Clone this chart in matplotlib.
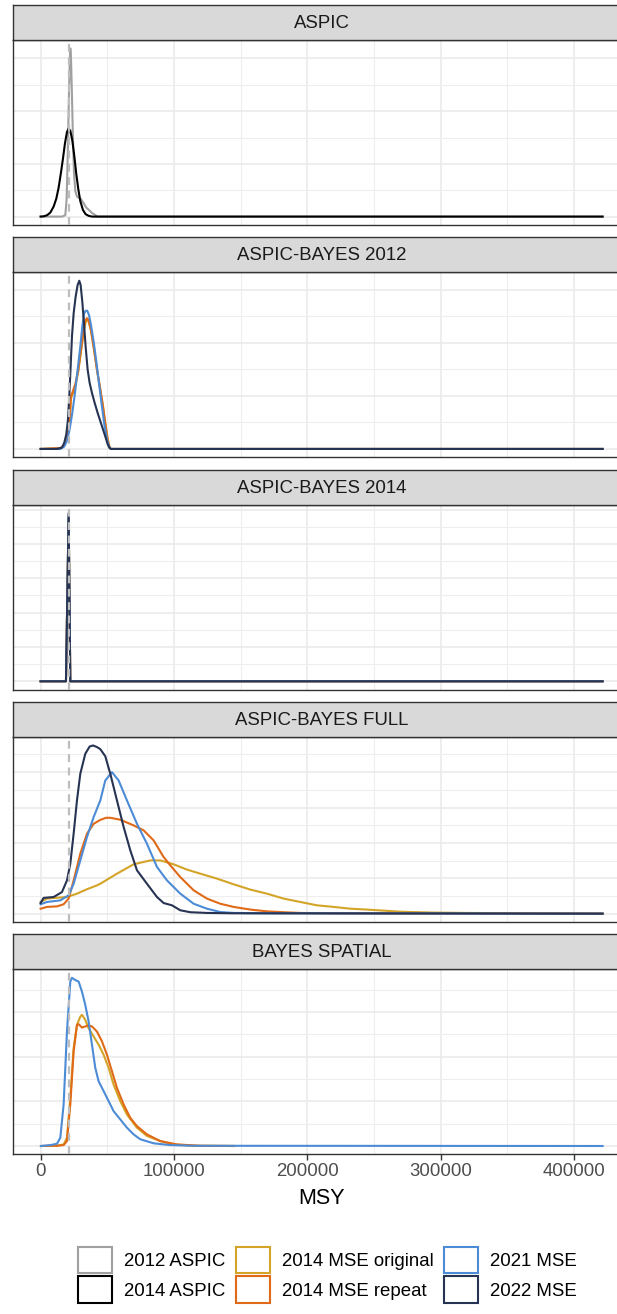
import matplotlib.pyplot as plt
from matplotlib.patches import Patch
from matplotlib.ticker import MultipleLocator

plt.rcParams['font.family'] = ['Liberation Sans', 'DejaVu Sans']

# reference MSY (dashed line)
msy_ref = 21000

# ---- ASPIC ----
aspic_2012_msy = [25, 16025, 18525, 19525, 20275, 21025, 21775, 22275, 22775, 23525, 24275,
                  25025, 26025, 27275, 28775, 30275, 32275, 34275, 36275, 38275, 40275, 42775, 421500]
aspic_2012_dens = [0, 0, .05, .66, 2.18, 4.08, 5.72, 6.38, 6.04, 4.58, 2.94,
                   1.67, .97, .76, .71, .66, .51, .34, .25, .15, .08, 0, 0]
aspic_2014_msy = [25, 2275, 4775, 7275, 9775, 11775, 13525, 15275, 16775, 18275, 19775, 21025,
                  22275, 23775, 25275, 26775, 28275, 29775, 31775, 33775, 36025, 38525, 421500]
aspic_2014_dens = [0, .01, .05, .15, .38, .68, 1.10, 1.67, 2.20, 2.78, 3.21, 3.34,
                   3.26, 2.89, 2.30, 1.61, 1.04, .59, .25, .09, .03, 0, 0]

# ---- ASPIC-BAYES 2012 ----
b12_orig_msy = [25, 14775, 17775, 19775, 21525, 22775, 24275, 26275, 28275, 30275, 32275, 33775,
                34775, 36025, 37775, 39775, 42275, 44775, 46775, 48775, 50275, 51775, 52775, 421500]
b12_orig_dens = [0, .03, .13, .40, .88, 1.90, 2.10, 2.42, 2.92, 3.66, 4.40, 4.78,
                 4.85, 4.80, 4.45, 3.84, 2.98, 2.24, 1.62, .88, .38, .06, 0, 0]
b12_rep_msy = [25, 14775, 17775, 19775, 21525, 22775, 24275, 26275, 28275, 30275, 32275, 33775,
               34775, 36025, 37775, 39775, 42275, 44775, 46775, 48775, 50275, 51775, 52775, 421500]
b12_rep_dens = [0, .03, .14, .43, .93, 1.99, 2.18, 2.49, 2.99, 3.74, 4.49, 4.86,
                4.93, 4.86, 4.49, 3.86, 2.99, 2.24, 1.61, .86, .36, .05, 0, 0]
b12_2021_msy = [25, 14775, 17775, 19775, 21775, 23775, 25775, 27775, 29775, 31275, 32525, 33775,
                35025, 36275, 37775, 39775, 41775, 43775, 45775, 47775, 49775, 51275, 52775, 421500]
b12_2021_dens = [0, 0, .09, .30, .74, 1.36, 2.11, 2.99, 3.86, 4.61, 5.09, 5.21,
                 5.21, 5.05, 4.68, 4.05, 3.30, 2.49, 1.68, .93, .36, .09, 0, 0]
b12_2022_msy = [25, 12275, 16025, 17775, 19275, 20525, 21525, 22525, 23525, 24775, 26275, 27775,
                29025, 30025, 31275, 32525, 33775, 35275, 36775, 38525, 40525, 42775, 44775,
                46775, 48775, 50275, 51775, 52775, 421500]
b12_2022_dens = [0, 0, .05, .24, .55, 1.11, 1.99, 3.11, 4.24, 5.11, 5.74, 6.18,
                 6.34, 6.18, 5.55, 4.74, 3.86, 2.99, 2.49, 2.11, 1.74, 1.36, 1.05,
                 .74, .43, .18, .03, 0, 0]

# ---- ASPIC-BAYES 2014 ----
b14_msy = [0, 19025, 21025, 22275, 421500]
b14_orig_dens = [0, 0, 9.5, 0, 0]
b14_rep_dens = [0, 0, 9.6, 0, 0]
b14_2021_dens = [0, 0, 9.7, 0, 0]
b14_2022_dens = [0, 0, 9.8, 0, 0]

# ---- ASPIC-BAYES FULL ----
full_orig_msy = [0, 4775, 12275, 19775, 27275, 34775, 42275, 44775, 57275, 69775, 82275, 89775,
                 99775, 109775, 119775, 132275, 144775, 157275, 169775, 182275, 194775, 207275,
                 219775, 232275, 244775, 257275, 269775, 294775, 319775, 359775, 421500]
full_orig_dens = [.66, .85, .90, .94, 1.13, 1.38, 1.60, 1.69, 2.26, 2.79, 3.01, 3.01,
                  2.79, 2.49, 2.26, 1.98, 1.66, 1.36, 1.13, .85, .66, .47,
                  .38, .28, .23, .17, .11, .06, .04, .02, 0]
full_rep_msy = [0, 4775, 12275, 17275, 21025, 24775, 29775, 34775, 39775, 44775, 49000, 52275,
                59775, 69775, 77275, 84775, 92275, 97275, 104775, 114775, 124775, 134775,
                144775, 157275, 169775, 182275, 194775, 219775, 421500]
full_rep_dens = [.28, .38, .41, .53, .85, 1.88, 3.39, 4.52, 5.08, 5.30, 5.42, 5.42,
                 5.31, 4.99, 4.71, 4.14, 3.20, 2.73, 2.07, 1.32, .85, .56,
                 .38, .23, .13, .08, .04, .02, 0]
full_2021_msy = [0, 4775, 14775, 21025, 24775, 29775, 34775, 39775, 44775, 48525, 53525, 58525,
                 64775, 72275, 79775, 87275, 94775, 104775, 114775, 124775, 134775, 144775,
                 169775, 421500]
full_2021_dens = [.53, .66, .75, 1.04, 1.69, 3.01, 4.33, 5.46, 6.40, 7.53, 8.00, 7.53,
                  6.40, 5.08, 3.95, 2.64, 1.88, 1.13, .56, .28, .09, .04, .02, 0]
full_2022_msy = [0, 2275, 9775, 16025, 19775, 22275, 24775, 27275, 29775, 33525, 36775, 39275,
                 42275, 44775, 48525, 52275, 57275, 62275, 67275, 72275, 79775, 87275, 92275,
                 98525, 104775, 112275, 124775, 144775, 421500]
full_2022_dens = [.60, .89, .94, 1.22, 1.88, 2.82, 4.52, 6.40, 7.91, 9.04, 9.45, 9.51,
                  9.42, 9.30, 8.90, 7.91, 6.40, 4.90, 3.58, 2.45, 1.69, .94, .60,
                  .47, .19, .08, .04, .02, 0]

# ---- BAYES SPATIAL ----
sp_orig_msy = [275, 12275, 17275, 19775, 22275, 24775, 27275, 29775, 31025, 33525, 36025, 39775,
               43525, 47275, 51025, 54775, 59775, 64775, 72275, 79775, 89775, 99775, 114775, 145000]
sp_orig_dens = [0, .01, .07, .37, 2.16, 4.39, 5.43, 5.80, 5.88, 5.65, 5.28, 4.91,
                4.54, 4.09, 3.50, 2.75, 2.01, 1.41, .82, .45, .22, .07, .01, 0]
sp_rep_msy = [275, 12275, 17275, 19775, 22275, 24775, 27275, 28525, 31025, 33525, 36025, 38525,
              42275, 46025, 49775, 53525, 57275, 62275, 67275, 72275, 79775, 89775, 102275,
              119775, 145000]
sp_rep_dens = [0, .01, .04, .22, 1.86, 4.24, 5.43, 5.46, 5.31, 5.36, 5.40, 5.36,
               5.13, 4.69, 4.09, 3.35, 2.60, 1.86, 1.26, .89, .52, .22, .07, .01, 0]
sp_2021_msy = [275, 7275, 12275, 14775, 17275, 19775, 22275, 23525, 26025, 28525, 31025, 33525,
               36025, 38525, 41025, 43525, 47275, 51025, 54775, 59775, 64775, 69775, 74775,
               84775, 97275, 114775, 421500]
sp_2021_dens = [0, .04, .10, .37, 1.86, 5.13, 7.37, 7.54, 7.44, 7.37, 6.92, 6.32,
                5.58, 4.54, 3.50, 2.90, 2.46, 2.01, 1.56, 1.19, .82, .52, .30,
                .12, .04, .01, 0]

series_labels = ['2012 ASPIC', '2014 ASPIC', '2014 MSE original', '2014 MSE repeat',
                 '2021 MSE', '2022 MSE']
series_colors = ['#A0A0A0', '#000000', '#D4A428', '#E06A17', '#4C8BD5', '#263352']

panels = [
    ('ASPIC', [(0, aspic_2012_msy, aspic_2012_dens), (1, aspic_2014_msy, aspic_2014_dens)]),
    ('ASPIC-BAYES 2012', [(2, b12_orig_msy, b12_orig_dens), (3, b12_rep_msy, b12_rep_dens),
                          (4, b12_2021_msy, b12_2021_dens), (5, b12_2022_msy, b12_2022_dens)]),
    ('ASPIC-BAYES 2014', [(2, b14_msy, b14_orig_dens), (3, b14_msy, b14_rep_dens),
                          (4, b14_msy, b14_2021_dens), (5, b14_msy, b14_2022_dens)]),
    ('ASPIC-BAYES FULL', [(2, full_orig_msy, full_orig_dens), (3, full_rep_msy, full_rep_dens),
                          (4, full_2021_msy, full_2021_dens), (5, full_2022_msy, full_2022_dens)]),
    ('BAYES SPATIAL', [(2, sp_orig_msy, sp_orig_dens), (3, sp_rep_msy, sp_rep_dens),
                       (4, sp_2021_msy, sp_2021_dens)]),
]

W, H = 617, 1314
fig = plt.figure(figsize=(W / 100, H / 100), dpi=100)

left_px, right_px = 12.5, 630.7
strip_h, panel_h, step = 35, 185, 232.35
border = '#333333'
fs = 13.4

for i, (title, curves) in enumerate(panels):
    strip_top = 5 + i * step
    strip_bot = strip_top + strip_h
    panel_bot = strip_bot + panel_h
    ax = fig.add_axes([left_px / W, 1 - panel_bot / H, (right_px - left_px) / W, panel_h / H])
    sax = fig.add_axes([left_px / W, 1 - strip_bot / H, (right_px - left_px) / W, strip_h / H])

    ymax = 0
    for k, msy, dens in curves:
        ax.plot(msy, dens, color=series_colors[k], lw=1.5, solid_joinstyle='round', zorder=3)
        ymax = max(ymax, max(dens))
    ax.axvline(msy_ref, color='#BDBDBD', lw=1.6, ls=(0, (3.5, 2.5)), zorder=4)

    ax.set_xlim(-21075, 442575)
    ax.set_ylim(-0.05 * ymax, 1.05 * ymax)
    ax.xaxis.set_major_locator(MultipleLocator(100000))
    ax.xaxis.set_minor_locator(MultipleLocator(50000))
    ax.yaxis.set_major_locator(MultipleLocator(2))
    ax.yaxis.set_minor_locator(MultipleLocator(1))
    ax.grid(which='major', color='#EBEBEB', lw=1.2)
    ax.grid(which='minor', color='#EEEEEE', lw=0.8)
    ax.set_axisbelow(True)
    ax.tick_params(axis='y', which='both', length=0, labelleft=False)
    ax.tick_params(axis='x', which='minor', length=0)
    for s in ax.spines.values():
        s.set_color(border)
        s.set_linewidth(1.0)

    if i == len(panels) - 1:
        ax.ticklabel_format(style='plain', axis='x')
        ax.tick_params(axis='x', which='major', length=4, width=1.0, color=border,
                       labelsize=fs, labelcolor='#4D4D4D', pad=2)
        ax.set_xlabel('MSY', fontsize=15.5, labelpad=6)
    else:
        ax.tick_params(axis='x', which='major', length=0, labelbottom=False)

    sax.set_facecolor('#D9D9D9')
    sax.set_xticks([])
    sax.set_yticks([])
    for s in sax.spines.values():
        s.set_color(border)
        s.set_linewidth(1.0)
    sax.text(0.5, 0.47, title, ha='center', va='center', fontsize=fs, color='#1A1A1A',
             transform=sax.transAxes)

handles = [Patch(facecolor='white', edgecolor=c, linewidth=1.5, label=l)
           for l, c in zip(series_labels, series_colors)]
fig.legend(handles=handles, loc='upper left', bbox_to_anchor=(78 / W, 1 - 1246.6 / H),
           ncol=3, frameon=False, fontsize=fs, handlelength=1.83, handleheight=1.83,
           handletextpad=0.65, columnspacing=0.55, labelspacing=0.17,
           borderpad=0, borderaxespad=0)

fig.savefig('out.png', dpi=100)
